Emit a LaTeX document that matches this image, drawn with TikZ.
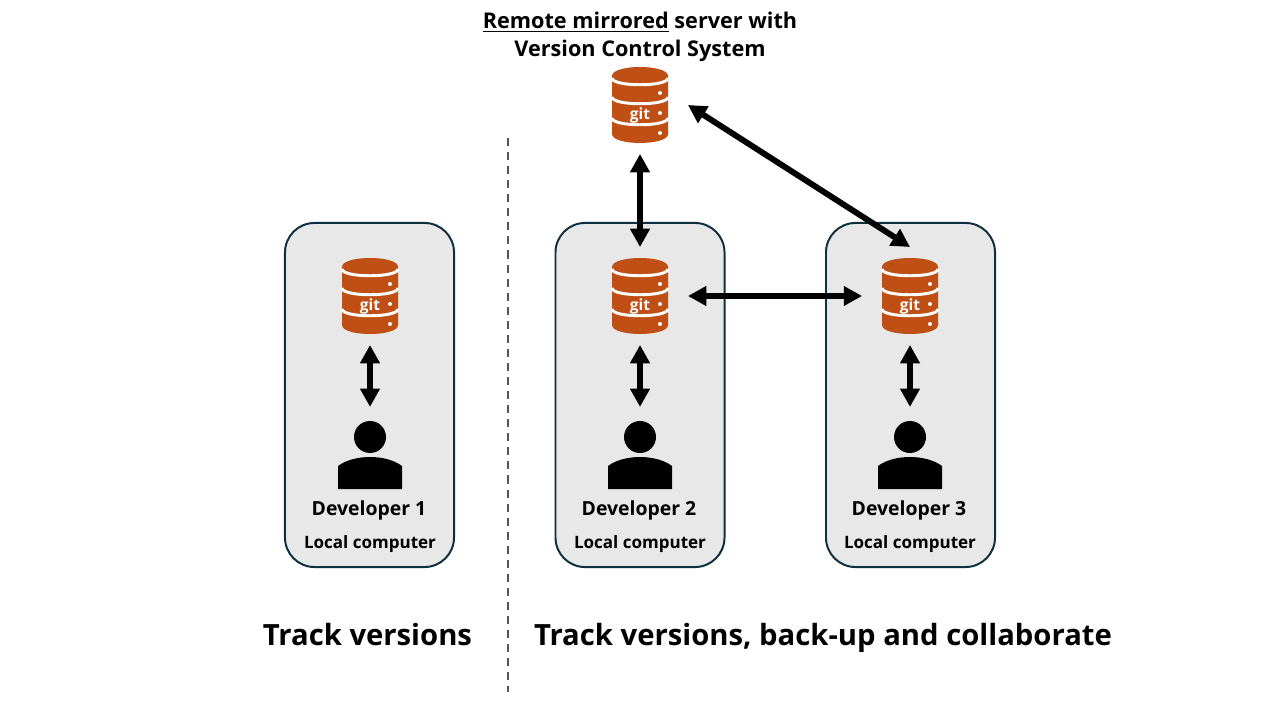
\documentclass[tikz,border=0pt]{standalone}
\usepackage{fontspec}
\setmainfont{Open Sans}[BoldFont={Open Sans Bold}]
\usetikzlibrary{arrows.meta}

\definecolor{gitorange}{HTML}{C04F15}
\definecolor{boxfill}{HTML}{E8E8E8}
\definecolor{boxline}{HTML}{0E2F3F}
\definecolor{divline}{HTML}{555555}

\tikzset{
    pcbox/.style={draw=boxline, fill=boxfill, line width=1.4pt, rounded corners=21pt,
        minimum width=4.225cm, minimum height=8.6cm},
    dbnode/.style={minimum width=1.4cm, minimum height=1.9cm, inner sep=0pt,
        outer xsep=14.2pt, outer ysep=7.8pt},
    usernode/.style={minimum width=1.6cm, minimum height=1.7cm, inner sep=0pt, outer sep=10pt},
    dblarrow/.style={line width=4.2pt, {Triangle[width=13.4pt,length=13pt]}-{Triangle[width=13.4pt,length=13pt]}},
    devlabel/.style={font=\fontsize{13.8}{16}\selectfont\bfseries, anchor=base},
    pclabel/.style={font=\fontsize{12.1}{14}\selectfont\bfseries, anchor=base},
    tracklabel/.style={font=\fontsize{20.8}{24}\selectfont\bfseries, anchor=base},
    gitband/.style={draw=white, line width=2.1pt}
}

\begin{document}
\begin{tikzpicture}[x=0.025cm, y=-0.025cm]
    \useasboundingbox (0,0) rectangle (1280,720);

    % local computers
    \foreach \n/\x in {1/369.5, 2/640, 3/910.5} {
        \node[pcbox] (pc\n) at (\x, 395) {};
    }

    % git databases
    \foreach \n/\x/\y in {remote/640/105, 1/370/296, 2/640/296, 3/910/296} {
        \node[dbnode] (db\n) at (\x, \y) {};
        \begin{scope}[shift={(\x, \y)}]
            \fill[gitorange] (-28,-29) .. controls (-28,-41) and (28,-41) .. (28,-29)
                -- (28,29) .. controls (28,41) and (-28,41) .. (-28,29) -- cycle;
            \foreach \b in {-27, -8, 13} {
                \draw[gitband] (-28,\b) .. controls (-28,\b+9) and (28,\b+9) .. (28,\b);
            }
            \foreach \d in {-12, 8, 28} {
                \fill[white] (20,\d) circle[radius=2];
            }
            \node[text=white, font=\fontsize{11}{12}\selectfont\bfseries, inner sep=0pt] (git\n) at (0,10.5) {git};
        \end{scope}
    }

    % developers
    \foreach \n/\x in {1/370, 2/640, 3/910} {
        \node[usernode] (user\n) at (\x, 455) {};
        \fill (\x, 437) circle[radius=16];
        \fill (\x-32, 489) -- (\x-32, 466) .. controls (\x-24, 460) and (\x-12, 457) .. (\x, 457)
            .. controls (\x+12, 457) and (\x+24, 460) .. (\x+32, 466) -- (\x+32, 489) -- cycle;
        \node[devlabel] (dev\n) at (\x-1, 515) {Developer \n};
        \node[pclabel] (local\n) at (\x, 548) {Local computer};
        \draw[dblarrow] (db\n.south) -- (user\n.north);
    }

    % links between repositories
    \draw[dblarrow] (dbremote.south) -- (db2.north);
    \draw[dblarrow] (db2.east) -- (db3.west);
    \draw[dblarrow] (dbremote.east) -- (db3.north);

    % divider
    \coordinate (divtop) at (508, 138);
    \coordinate (divbot) at (508, 692);
    \draw[dash pattern=on 5.7pt off 4.3pt, line width=1.4pt, divline] (divtop) -- (divbot);

    \node[align=center, font=\fontsize{15.4}{19.9}\selectfont\bfseries] (title) at (640, 37)
        {\underline{Remote mirrored} server with \\ Version Control System};

    \node[tracklabel] (trackleft) at (367.5, 645) {Track versions};
    \node[tracklabel] (trackright) at (823, 645) {Track versions, back-up and collaborate};
\end{tikzpicture}
\end{document}
